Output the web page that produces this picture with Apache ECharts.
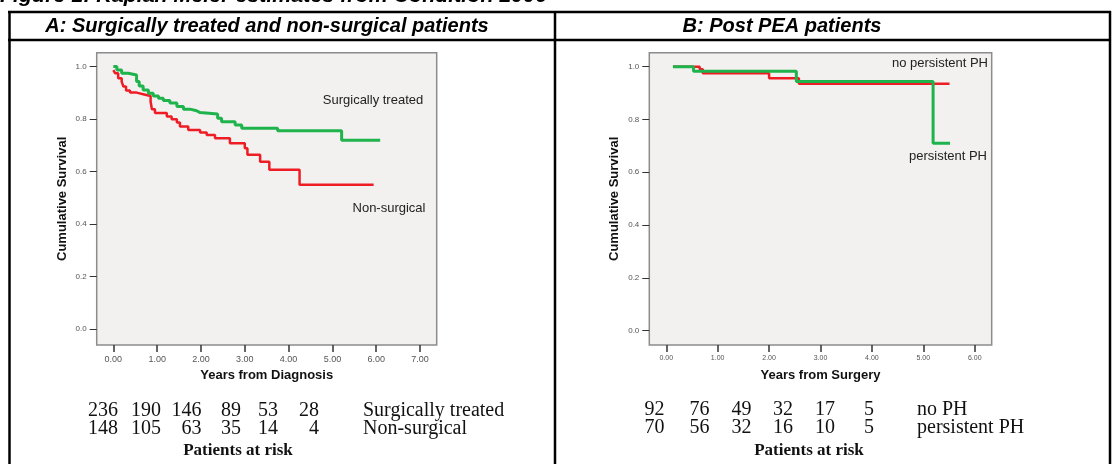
<!DOCTYPE html>
<html><head><meta charset="utf-8">
<script src="https://cdn.jsdelivr.net/npm/echarts@6/dist/echarts.min.js"></script>
<style>html,body{margin:0;padding:0;background:#fff}#c{width:1117px;height:464px}</style>
</head><body><div id="c"></div>
<script>
// ---- data ----
const yTickValues = [0, 0.2, 0.4, 0.6, 0.8, 1.0];
const xTickValuesA = [0, 1, 2, 3, 4, 5, 6, 7];
const xTickValuesB = [0, 1, 2, 3, 4, 5, 6];

// Panel A: years from diagnosis
const surgTimes = [0, 0.08, 0.19, 0.34, 0.53, 0.59, 0.68, 0.8, 0.91, 1.03, 1.14, 1.29, 1.45, 1.6, 1.75, 1.9, 1.98, 2.38, 2.47, 2.78, 2.93, 3.75, 5.21, 6.09];
const surgSurv  = [1.0, 0.987, 0.975, 0.968, 0.943, 0.926, 0.911, 0.899, 0.888, 0.88, 0.871, 0.861, 0.848, 0.838, 0.832, 0.825, 0.82, 0.803, 0.79, 0.778, 0.765, 0.756, 0.72, 0.72];
const nonSurgTimes = [0, 0.04, 0.11, 0.19, 0.23, 0.29, 0.38, 0.53, 0.68, 0.85, 0.88, 0.95, 1.22, 1.33, 1.45, 1.52, 1.71, 1.98, 2.13, 2.32, 2.66, 3.0, 3.06, 3.35, 3.56, 4.25, 5.94];
const nonSurgSurv  = [0.987, 0.975, 0.956, 0.943, 0.924, 0.909, 0.901, 0.895, 0.888, 0.867, 0.838, 0.823, 0.81, 0.8, 0.787, 0.772, 0.759, 0.749, 0.74, 0.727, 0.708, 0.689, 0.664, 0.638, 0.607, 0.55, 0.55];

// Panel B: years from surgery
const noPHTimes = [0.13, 0.65, 0.71, 2.0, 2.58, 5.51];
const noPHSurv  = [1.0, 0.99, 0.975, 0.956, 0.935, 0.935];
const pPHTimes = [0.13, 0.53, 2.53, 5.19, 5.52];
const pPHSurv  = [1.0, 0.983, 0.944, 0.71, 0.71];

// Patients at risk
const riskSurg    = [236, 190, 146, 89, 53, 28];
const riskNonSurg = [148, 105, 63, 35, 14, 4];
const riskNoPH    = [92, 76, 49, 32, 17, 5];
const riskPPH     = [70, 56, 32, 16, 10, 5];
const riskLabelsA = ['Surgically treated', 'Non-surgical'];
const riskLabelsB = ['no PH', 'persistent PH'];

// ---- layout (positions, not data) ----
const riskColRightA = [118, 161, 201.5, 241, 278, 319];
const riskColRightB = [664.5, 709.5, 751.5, 793, 835, 874];

const pair = (t, s) => t.map((v, i) => [v, s[i]]);
const GREEN = '#1fb34b', RED = '#ee1d25';
const SANS = '"Liberation Sans", Arial, sans-serif';
const SERIF = '"Liberation Serif", "Times New Roman", serif';

const chart = echarts.init(document.getElementById('c'), null, {renderer: 'canvas'});

function xAxisCfg(idx, min, max, ticks, name, labelSize) {
  return {
    type: 'value', gridIndex: idx, min: min, max: max, position: 'bottom',
    name: name, nameLocation: 'middle', nameGap: 23,
    nameTextStyle: {fontFamily: SANS, fontWeight: 'bold', fontSize: 13, color: '#111'},
    axisLine: {show: false, onZero: false},
    splitLine: {show: false},
    axisTick: {show: true, inside: false, length: 7, customValues: ticks, lineStyle: {color: '#333', width: 1.5}},
    axisLabel: {show: true, margin: 10, customValues: ticks, fontFamily: SANS, fontSize: labelSize, color: '#555',
      formatter: v => v.toFixed(2)}
  };
}
function yAxisCfg(idx, min, max) {
  return {
    type: 'value', gridIndex: idx, min: min, max: max, position: 'left',
    name: 'Cumulative Survival', nameLocation: 'middle', nameGap: 28,
    nameTextStyle: {fontFamily: SANS, fontWeight: 'bold', fontSize: 13, color: '#111'},
    axisLine: {show: false, onZero: false},
    splitLine: {show: false},
    axisTick: {show: true, inside: false, length: 7, customValues: yTickValues, lineStyle: {color: '#333', width: 1}},
    axisLabel: {show: true, margin: 10, customValues: yTickValues, fontFamily: SANS, fontSize: 8, color: '#555',
      formatter: v => v.toFixed(1)}
  };
}
function kmSeries(idx, data, color, width, z) {
  return {
    type: 'line', xAxisIndex: idx, yAxisIndex: idx, data: data, step: 'end',
    showSymbol: false, symbol: 'none', z: z,
    lineStyle: {color: color, width: width}, silent: true
  };
}

const graphics = [];
function txt(x, y, text, font, align, vAlign, fill, sx) {
  graphics.push({type: 'text', x: x, y: y, scaleX: sx || 1, silent: true,
    style: {text: text, font: font, align: align || 'left', verticalAlign: vAlign || 'middle', fill: fill || '#000'}});
}
function line(x1, y1, x2, y2, w) {
  graphics.push({type: 'line', silent: true, shape: {x1, y1, x2, y2}, style: {stroke: '#000', lineWidth: w}});
}

// frame / table lines
line(8, 12, 1111, 12, 2.5);
line(8, 40, 1111, 40, 2.5);
line(9.5, 11, 9.5, 464, 2.5);
line(555, 11, 555, 464, 2.5);
line(1110, 11, 1110, 464, 2.5);

// titles
txt(0, -3.5, 'Figure 1: Kaplan Meier estimates from Condition 2006', 'italic bold 20px ' + SANS, 'left', 'middle', '#000', 1.07);
txt(267, 26, 'A: Surgically treated and non-surgical patients', 'italic bold 20px ' + SANS, 'center');
txt(782, 26, 'B: Post PEA patients', 'italic bold 20px ' + SANS, 'center');

// annotations in plots
txt(373, 100, 'Surgically treated', '13px ' + SANS, 'center', 'middle', '#222');
txt(389, 208, 'Non-surgical', '13px ' + SANS, 'center', 'middle', '#222');
txt(988, 63, 'no persistent PH', '13px ' + SANS, 'right', 'middle', '#222');
txt(987, 156, 'persistent PH', '13px ' + SANS, 'right', 'middle', '#222');

// patients at risk tables
const rowsA = [riskSurg, riskNonSurg], rowsB = [riskNoPH, riskPPH];
const rowYA = [411, 429], rowYB = [410, 428];
const riskFont = '20px ' + SERIF;
rowsA.forEach((row, r) => {
  row.forEach((v, i) => txt(riskColRightA[i], rowYA[r], String(v), riskFont, 'right', 'middle', '#111'));
  txt(363, rowYA[r], riskLabelsA[r], riskFont, 'left', 'middle', '#111');
});
rowsB.forEach((row, r) => {
  row.forEach((v, i) => txt(riskColRightB[i], rowYB[r], String(v), riskFont, 'right', 'middle', '#111'));
  txt(917, rowYB[r], riskLabelsB[r], riskFont, 'left', 'middle', '#111');
});
txt(238, 451, 'Patients at risk', 'bold 17px ' + SERIF, 'center', 'middle', '#111');
txt(809, 451, 'Patients at risk', 'bold 17px ' + SERIF, 'center', 'middle', '#111');

const xa = xAxisCfg(0, -0.38, 7.38, xTickValuesA, 'Years from Diagnosis', 9);
const xb = xAxisCfg(1, -0.33, 6.33, xTickValuesB, 'Years from Surgery', 7);
xb.nameGap = 24;

chart.setOption({
  animation: false,
  backgroundColor: '#ffffff',
  grid: [
    {left: 96.7, top: 52.7, width: 340, height: 292.3, show: true, backgroundColor: '#f2f1f0', borderColor: '#8c8c8c', borderWidth: 1.5},
    {left: 649.3, top: 52.7, width: 342.4, height: 292.3, show: true, backgroundColor: '#f2f1f0', borderColor: '#8c8c8c', borderWidth: 1.5}
  ],
  xAxis: [xa, xb],
  yAxis: [yAxisCfg(0, -0.06, 1.053), yAxisCfg(1, -0.0546, 1.053)],
  series: [
    kmSeries(0, pair(nonSurgTimes, nonSurgSurv), RED, 2.5, 2),
    kmSeries(0, pair(surgTimes, surgSurv), GREEN, 3, 3),
    kmSeries(1, pair(noPHTimes, noPHSurv), RED, 2.5, 2),
    kmSeries(1, pair(pPHTimes, pPHSurv), GREEN, 3, 3)
  ],
  graphic: graphics
});
</script>
</body></html>
